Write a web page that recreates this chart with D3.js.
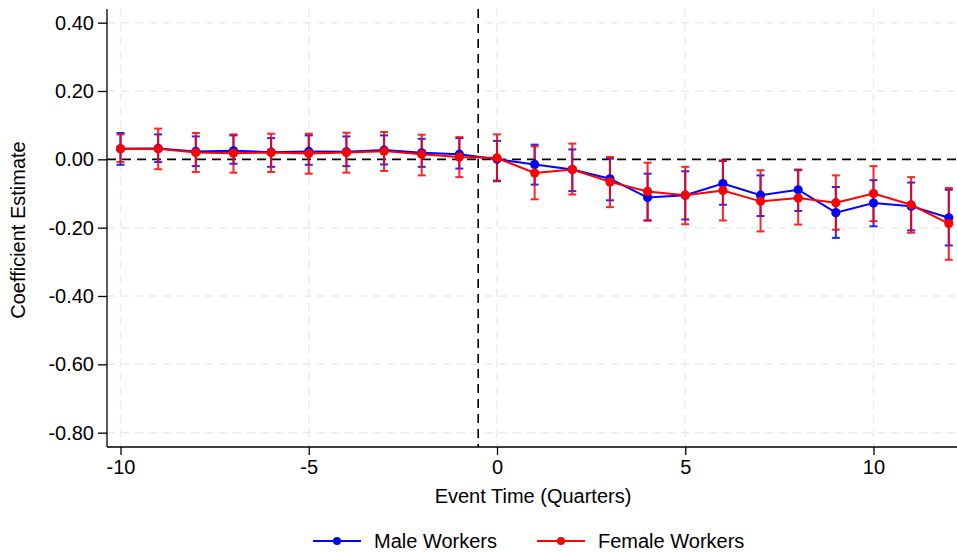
<!DOCTYPE html>
<html>
<head>
<meta charset="utf-8">
<script src="https://cdn.jsdelivr.net/npm/d3@7"></script>
<style>
  html, body { margin: 0; padding: 0; background: #fff; }
  svg { display: block; font-family: "Liberation Sans", Arial, Helvetica, sans-serif; }
</style>
</head>
<body>
<svg id="chart" width="957" height="553"></svg>
<script>
// Event-study coefficients by quarter relative to the event
const eventTime = [-10, -9, -8, -7, -6, -5, -4, -3, -2, -1, 0, 1, 2, 3, 4, 5, 6, 7, 8, 9, 10, 11, 12];

const maleCoef = [0.031, 0.032, 0.023, 0.025, 0.021, 0.023, 0.022, 0.027, 0.019, 0.015, 0.000, -0.015, -0.030, -0.057, -0.112, -0.105, -0.071, -0.105, -0.089, -0.156, -0.128, -0.137, -0.171];
const maleLo   = [-0.016, -0.008, -0.020, -0.013, -0.022, -0.016, -0.020, -0.015, -0.022, -0.027, -0.064, -0.074, -0.093, -0.120, -0.179, -0.176, -0.133, -0.166, -0.151, -0.230, -0.196, -0.208, -0.252];
const maleHi   = [0.077, 0.073, 0.067, 0.070, 0.062, 0.070, 0.067, 0.070, 0.060, 0.062, 0.054, 0.043, 0.029, 0.002, -0.042, -0.035, -0.005, -0.047, -0.030, -0.081, -0.061, -0.068, -0.089];

const femaleCoef = [0.031, 0.031, 0.020, 0.018, 0.020, 0.017, 0.020, 0.024, 0.015, 0.007, 0.004, -0.040, -0.030, -0.066, -0.094, -0.105, -0.091, -0.123, -0.113, -0.127, -0.100, -0.133, -0.188];
const femaleLo   = [-0.008, -0.029, -0.037, -0.039, -0.037, -0.042, -0.039, -0.034, -0.047, -0.052, -0.062, -0.117, -0.103, -0.140, -0.179, -0.190, -0.179, -0.211, -0.191, -0.206, -0.181, -0.215, -0.294];
const femaleHi   = [0.073, 0.090, 0.077, 0.073, 0.075, 0.075, 0.078, 0.080, 0.072, 0.065, 0.073, 0.038, 0.046, 0.007, -0.010, -0.022, -0.003, -0.032, -0.032, -0.047, -0.020, -0.052, -0.084];

const xTicks = [-10, -5, 0, 5, 10];
const yTicks = [0.40, 0.20, 0.00, -0.20, -0.40, -0.60, -0.80];

const seriesNames = ["Male Workers", "Female Workers"];
const seriesColors = ["#0000ff", "#ff0000"];
const eventLine = -0.5;

const series = [
  { name: seriesNames[0], color: seriesColors[0], coef: maleCoef, lo: maleLo, hi: maleHi },
  { name: seriesNames[1], color: seriesColors[1], coef: femaleCoef, lo: femaleLo, hi: femaleHi }
].map(s => ({ ...s, points: eventTime.map((t, i) => ({ t, c: s.coef[i], lo: s.lo[i], hi: s.hi[i] })) }));

const svg = d3.select("#chart");
const plot = { left: 107, right: 957, top: 9, bottom: 447 };
const fontSize = 20;

const x = d3.scaleLinear().domain([-10.359, 12.218]).range([plot.left, plot.right]);
const y = d3.scaleLinear().domain([-0.842, 0.44]).range([plot.bottom, plot.top]);

// plain hyphen for negative numbers
const fmtY = d => d3.format(".2f")(d).replace("\u2212", "-");
const fmtX = d => d3.format("d")(d).replace("\u2212", "-");

// grid
const grid = svg.append("g");
grid.selectAll("line.gy").data(yTicks.filter(v => v !== 0)).join("line")
  .attr("x1", plot.left).attr("x2", plot.right)
  .attr("y1", d => y(d)).attr("y2", d => y(d))
  .attr("stroke", "#ebebeb").attr("stroke-width", 1.5).attr("stroke-dasharray", "8,6");
grid.selectAll("line.gx").data(xTicks).join("line")
  .attr("x1", d => x(d)).attr("x2", d => x(d))
  .attr("y1", plot.top).attr("y2", plot.bottom)
  .attr("stroke", "#ebebeb").attr("stroke-width", 1.5).attr("stroke-dasharray", "8,6");

// reference lines
svg.append("line")
  .attr("x1", plot.left).attr("x2", plot.right)
  .attr("y1", y(0)).attr("y2", y(0))
  .attr("stroke", "#000").attr("stroke-width", 1.6).attr("stroke-dasharray", "9,6");
svg.append("line")
  .attr("x1", x(eventLine)).attr("x2", x(eventLine))
  .attr("y1", plot.top).attr("y2", plot.bottom)
  .attr("stroke", "#000").attr("stroke-width", 1.6).attr("stroke-dasharray", "9,6");

// axes
const yAxis = d3.axisLeft(y).tickValues(yTicks).tickFormat(fmtY).tickSizeOuter(0).tickSize(9).tickPadding(4);
const yG = svg.append("g").attr("transform", `translate(${plot.left},0)`).call(yAxis);
yG.select(".domain").attr("d", `M0,${plot.top}V${plot.bottom}`).attr("stroke", "#000").attr("stroke-width", 1.3);
yG.selectAll(".tick line").attr("stroke", "#000").attr("stroke-width", 1.3);
yG.selectAll(".tick text").attr("font-size", fontSize).attr("fill", "#000").attr("font-family", "Liberation Sans, Arial, sans-serif");

const xAxis = d3.axisBottom(x).tickValues(xTicks).tickFormat(fmtX).tickSizeOuter(0).tickSize(8).tickPadding(5);
const xG = svg.append("g").attr("transform", `translate(0,${plot.bottom})`).call(xAxis);
xG.select(".domain").attr("d", `M${plot.left},0H${plot.right}`).attr("stroke", "#000").attr("stroke-width", 1.3);
xG.selectAll(".tick line").attr("stroke", "#000").attr("stroke-width", 1.3);
xG.selectAll(".tick text").attr("font-size", fontSize).attr("fill", "#000").attr("font-family", "Liberation Sans, Arial, sans-serif");

// axis titles
svg.append("text").attr("x", 533).attr("y", 503)
  .attr("text-anchor", "middle").attr("font-size", fontSize).text("Event Time (Quarters)");
svg.append("text").attr("transform", `translate(25,${(plot.top + plot.bottom) / 2 + 2}) rotate(-90)`)
  .attr("text-anchor", "middle").attr("font-size", fontSize).text("Coefficient Estimate");

// confidence intervals
const capHalf = 4;
series.forEach(s => {
  const g = svg.append("g").attr("stroke", s.color).attr("stroke-width", 2).attr("opacity", 0.85);
  g.selectAll("line.bar").data(s.points).join("line")
    .attr("x1", d => x(d.t)).attr("x2", d => x(d.t))
    .attr("y1", d => y(d.lo)).attr("y2", d => y(d.hi));
  g.selectAll("line.cap-hi").data(s.points).join("line")
    .attr("x1", d => x(d.t) - capHalf).attr("x2", d => x(d.t) + capHalf)
    .attr("y1", d => y(d.hi)).attr("y2", d => y(d.hi));
  g.selectAll("line.cap-lo").data(s.points).join("line")
    .attr("x1", d => x(d.t) - capHalf).attr("x2", d => x(d.t) + capHalf)
    .attr("y1", d => y(d.lo)).attr("y2", d => y(d.lo));
});

// connected estimates
const line = d3.line().x(d => x(d.t)).y(d => y(d.c));
series.forEach(s => {
  svg.append("path").datum(s.points).attr("d", line)
    .attr("fill", "none").attr("stroke", s.color).attr("stroke-width", 2);
  svg.append("g").selectAll("circle").data(s.points).join("circle")
    .attr("cx", d => x(d.t)).attr("cy", d => y(d.c)).attr("r", 4.6)
    .attr("fill", s.color);
});

// legend
const legendItems = [
  { name: seriesNames[0], color: seriesColors[0], x0: 313 },
  { name: seriesNames[1], color: seriesColors[1], x0: 537 }
];
const ly = 541;
legendItems.forEach(it => {
  const g = svg.append("g");
  g.append("line").attr("x1", it.x0).attr("x2", it.x0 + 48).attr("y1", ly).attr("y2", ly)
    .attr("stroke", it.color).attr("stroke-width", 2);
  g.append("circle").attr("cx", it.x0 + 24).attr("cy", ly).attr("r", 4).attr("fill", it.color);
  g.append("text").attr("x", it.x0 + 61).attr("y", ly + 7).attr("font-size", fontSize).text(it.name);
});
</script>
</body>
</html>
